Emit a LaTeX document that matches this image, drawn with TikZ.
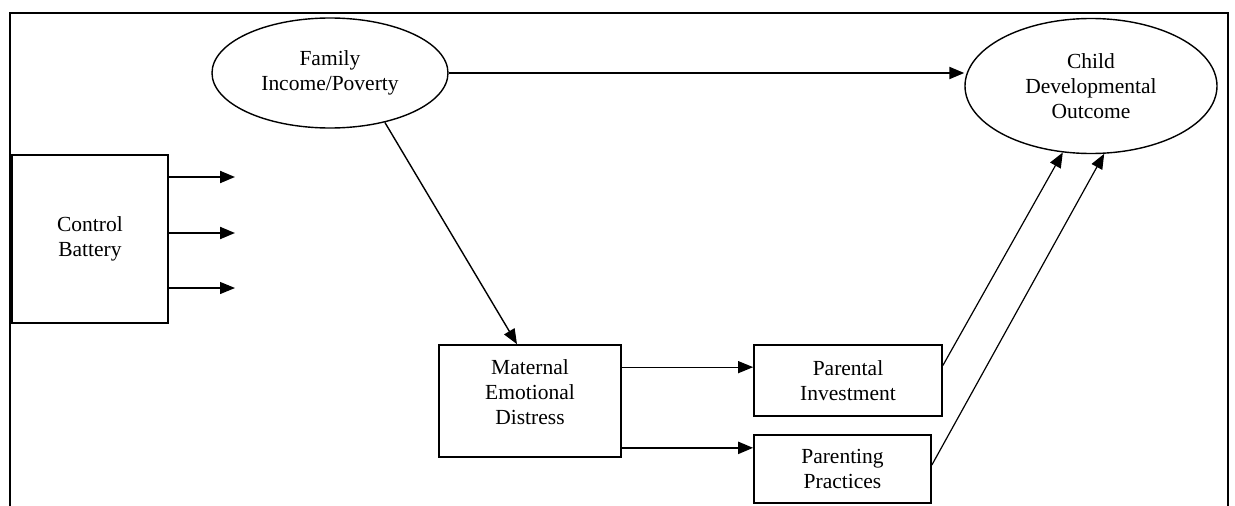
\documentclass[tikz,border=0pt]{standalone}
\usepackage{fontspec}
\setmainfont{Liberation Serif}
\usetikzlibrary{shapes.geometric,arrows.meta,calc}
\tikzset{
  txt/.style={font=\fontsize{21.5}{25}\selectfont, align=center, inner sep=0pt},
  oval/.style={ellipse, draw, line width=1.4pt, inner sep=0pt, txt},
  boxnode/.style={rectangle, draw, line width=1.7pt, inner sep=0pt, txt},
  arr/.style={line width=1.4pt, -{Triangle[length=15pt,width=12pt]}},
  thickarr/.style={arr, line width=2.1pt},
  thinarr/.style={arr, line width=1.1pt},
}
\begin{document}
\begin{tikzpicture}[x=1pt, y=-1pt]
  \useasboundingbox (0,0) rectangle (1235,506);
  % open frame round the model
  \draw[line width=2.6pt] (10,506) -- (10,13) -- (1228,13) -- (1228,506);

  % latent constructs
  \node[oval, minimum width=236pt, minimum height=110pt] (fam) at (330,73) {Family\\Income/Poverty};
  \node[oval, minimum width=252pt, minimum height=135pt] (child) at (1091,86) {Child\\Developmental\\Outcome};

  % controls
  \node[boxnode, minimum width=156pt, minimum height=168pt] (ctrl) at (90,239) {Control\\Battery};
  \coordinate (c1) at (235,177);
  \coordinate (c2) at (235,233);
  \coordinate (c3) at (235,288);

  % mediators
  \node[boxnode, minimum width=182pt, minimum height=112pt] (mat) at (530,401) {};
  \node[txt] (matT) at (530,392) {Maternal\\Emotional\\Distress};
  \node[boxnode, minimum width=188pt, minimum height=71pt] (par) at (848,380.5) {Parental\\Investment};
  \node[boxnode, minimum width=177pt, minimum height=68pt] (pp) at (842.5,469) {Parenting\\Practices};

  % paths
  \draw[thickarr] (fam.east) -- (fam.east -| child.west);
  \draw[thickarr] (ctrl.east |- c1) -- (c1);
  \draw[thickarr] (ctrl.east |- c2) -- (c2);
  \draw[arr, line width=1.2pt] (ctrl.east |- c3) -- (c3);
  \draw[arr] (fam.-42) -- ($(mat.north)+(-13,0)$);
  \draw[thinarr] ($(mat.north east)+(0,23)$) coordinate (m1) -- (m1 -| par.west);
  \draw[thickarr] ($(mat.south east)+(0,-10)$) coordinate (m2) -- (m2 -| pp.west);
  \draw[arr, line width=1.2pt] ($(par.east)+(0,-15)$) -- (child.247);
  \draw[arr, line width=1.2pt] ($(pp.east)+(0,-4)$) -- (child.-79);
\end{tikzpicture}
\end{document}
